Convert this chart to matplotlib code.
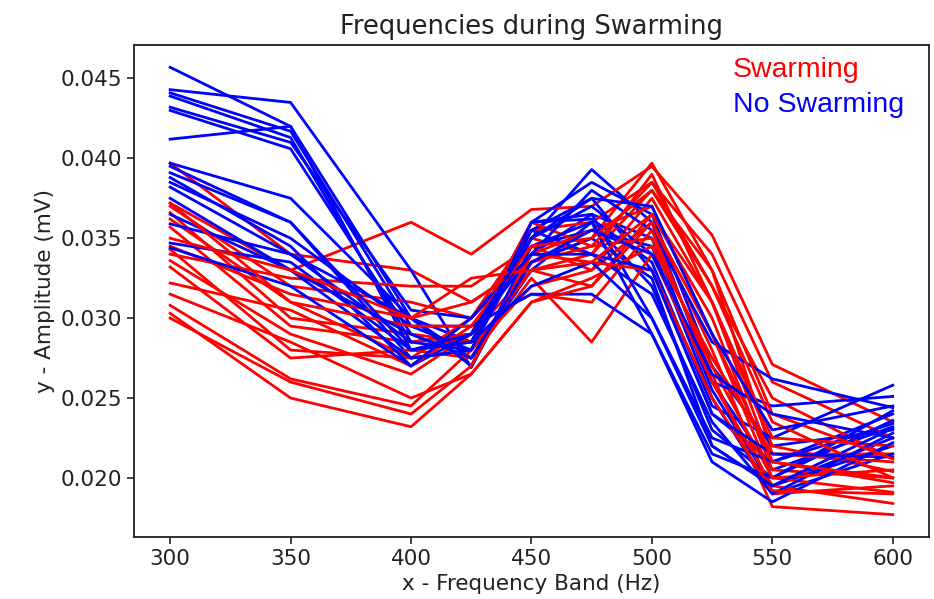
import matplotlib
matplotlib.use("Agg")
import matplotlib.pyplot as plt
import numpy as np

# frequency bands (Hz)
bands = [300, 350, 400, 425, 450, 475, 500, 525, 550, 600]

# amplitude (mV) per recording, swarming colonies
swarming = [
    [0.0397, 0.0340, 0.0330, 0.0310, 0.0335, 0.0350, 0.0397, 0.0330, 0.0215, 0.0215],
    [0.0372, 0.0330, 0.0360, 0.0340, 0.0368, 0.0370, 0.0395, 0.0352, 0.0271, 0.0235],
    [0.0370, 0.0320, 0.0310, 0.0300, 0.0355, 0.0360, 0.0385, 0.0340, 0.0260, 0.0225],
    [0.0366, 0.0300, 0.0290, 0.0285, 0.0350, 0.0340, 0.0380, 0.0320, 0.0250, 0.0212],
    [0.0362, 0.0310, 0.0275, 0.0280, 0.0320, 0.0330, 0.0375, 0.0310, 0.0220, 0.0204],
    [0.0357, 0.0295, 0.0285, 0.0290, 0.0330, 0.0320, 0.0365, 0.0300, 0.0205, 0.0200],
    [0.0343, 0.0280, 0.0275, 0.0300, 0.0340, 0.0355, 0.0370, 0.0290, 0.0210, 0.0197],
    [0.0340, 0.0325, 0.0320, 0.0320, 0.0345, 0.0330, 0.0360, 0.0280, 0.0190, 0.0195],
    [0.0336, 0.0290, 0.0265, 0.0290, 0.0360, 0.0345, 0.0350, 0.0270, 0.0200, 0.0191],
    [0.0332, 0.0275, 0.0280, 0.0275, 0.0325, 0.0285, 0.0340, 0.0260, 0.0195, 0.0184],
    [0.0322, 0.0305, 0.0270, 0.0295, 0.0315, 0.0310, 0.0355, 0.0265, 0.0182, 0.0177],
    [0.0315, 0.0285, 0.0250, 0.0265, 0.0310, 0.0325, 0.0345, 0.0275, 0.0215, 0.0210],
    [0.0308, 0.0262, 0.0245, 0.0280, 0.0330, 0.0340, 0.0390, 0.0310, 0.0225, 0.0220],
    [0.0303, 0.0250, 0.0232, 0.0265, 0.0310, 0.0320, 0.0360, 0.0290, 0.0200, 0.0205],
    [0.0300, 0.0260, 0.0240, 0.0270, 0.0340, 0.0335, 0.0330, 0.0250, 0.0192, 0.0190],
    [0.0345, 0.0315, 0.0300, 0.0310, 0.0335, 0.0345, 0.0385, 0.0320, 0.0235, 0.0200],
    [0.0372, 0.0310, 0.0295, 0.0295, 0.0345, 0.0350, 0.0380, 0.0330, 0.0240, 0.0212],
    [0.0350, 0.0330, 0.0300, 0.0325, 0.0330, 0.0335, 0.0365, 0.0310, 0.0210, 0.0200],
]

# amplitude (mV) per recording, no swarming
no_swarming = [
    [0.0457, 0.0420, 0.0300, 0.0285, 0.0350, 0.0393, 0.0360, 0.0260, 0.0205, 0.0232],
    [0.0443, 0.0435, 0.0330, 0.0269, 0.0340, 0.0365, 0.0350, 0.0255, 0.0195, 0.0225],
    [0.0441, 0.0417, 0.0295, 0.0280, 0.0355, 0.0375, 0.0330, 0.0240, 0.0210, 0.0240],
    [0.0439, 0.0413, 0.0285, 0.0290, 0.0360, 0.0385, 0.0365, 0.0270, 0.0220, 0.0230],
    [0.0432, 0.0410, 0.0305, 0.0300, 0.0345, 0.0355, 0.0345, 0.0250, 0.0190, 0.0215],
    [0.0430, 0.0406, 0.0290, 0.0275, 0.0330, 0.0360, 0.0320, 0.0230, 0.0200, 0.0236],
    [0.0412, 0.0420, 0.0280, 0.0285, 0.0360, 0.0362, 0.0335, 0.0245, 0.0225, 0.0258],
    [0.0397, 0.0375, 0.0300, 0.0275, 0.0335, 0.0350, 0.0325, 0.0220, 0.0195, 0.0220],
    [0.0391, 0.0360, 0.0275, 0.0280, 0.0350, 0.0370, 0.0340, 0.0260, 0.0245, 0.0251],
    [0.0388, 0.0345, 0.0270, 0.0290, 0.0340, 0.0380, 0.0355, 0.0285, 0.0262, 0.0244],
    [0.0385, 0.0350, 0.0295, 0.0295, 0.0315, 0.0315, 0.0290, 0.0215, 0.0200, 0.0242],
    [0.0382, 0.0340, 0.0285, 0.0280, 0.0360, 0.0365, 0.0300, 0.0225, 0.0210, 0.0234],
    [0.0365, 0.0330, 0.0275, 0.0280, 0.0355, 0.0340, 0.0315, 0.0235, 0.0190, 0.0228],
    [0.0359, 0.0340, 0.0300, 0.0270, 0.0345, 0.0360, 0.0290, 0.0210, 0.0185, 0.0222],
    [0.0347, 0.0335, 0.0280, 0.0285, 0.0320, 0.0335, 0.0300, 0.0220, 0.0195, 0.0231],
    [0.0344, 0.0320, 0.0270, 0.0300, 0.0340, 0.0340, 0.0330, 0.0240, 0.0215, 0.0213],
    [0.0375, 0.0330, 0.0290, 0.0275, 0.0335, 0.0355, 0.0340, 0.0265, 0.0240, 0.0225],
    [0.0395, 0.0360, 0.0280, 0.0290, 0.0350, 0.0375, 0.0370, 0.0290, 0.0230, 0.0245],
]


def draw():
    fig = plt.figure(figsize=(9.34, 5.99), dpi=100)
    ax = fig.add_axes([0.1435, 0.1035, 0.851, 0.8215])

    # interleave the two groups so neither sits fully on top
    for s, n in zip(swarming, no_swarming):
        ax.plot(bands, s, color="red", lw=2.0)
        ax.plot(bands, n, color="blue", lw=2.0)

    ax.set_xticks([300, 350, 400, 450, 500, 550, 600])
    ax.set_yticks([0.020, 0.025, 0.030, 0.035, 0.040, 0.045])
    ax.set_yticklabels(["0.020", "0.025", "0.030", "0.035", "0.040", "0.045"])
    ax.tick_params(labelsize=15.5, length=5, width=1.2, colors="#222222")
    for sp in ax.spines.values():
        sp.set_linewidth(1.3)
        sp.set_color("#222222")

    ax.set_title("Frequencies during Swarming", fontsize=18.5, color="#222222", pad=8)
    ax.set_xlabel("x - Frequency Band (Hz)", fontsize=15.5, color="#222222")
    ax.set_ylabel("y - Amplitude (mV)", fontsize=15.5, color="#222222")

    ax.text(0.753, 0.975, "Swarming", color="red", fontsize=20.5,
            family="Liberation Sans", transform=ax.transAxes, va="top")
    ax.text(0.753, 0.905, "No Swarming", color="blue", fontsize=20.5,
            family="Liberation Sans", transform=ax.transAxes, va="top")

    fig.savefig("out.png", dpi=100)


if __name__ == '__main__':
    draw()
